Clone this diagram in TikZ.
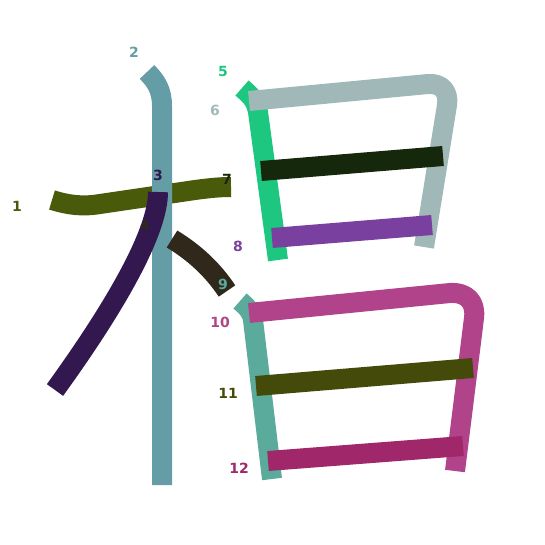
\documentclass[tikz,border=0pt]{standalone}
\usepackage{fontspec}
\newfontfamily\lblfont{DejaVu Sans}
\definecolor{cA}{HTML}{4A5A0B}
\definecolor{cB}{HTML}{659DA7}
\definecolor{cC}{HTML}{32184F}
\definecolor{cD}{HTML}{30291B}
\definecolor{cE}{HTML}{1EC780}
\definecolor{cF}{HTML}{A0B8B8}
\definecolor{cG}{HTML}{16280C}
\definecolor{cH}{HTML}{7A40A0}
\definecolor{cI}{HTML}{5AAB9C}
\definecolor{cJ}{HTML}{B04389}
\definecolor{cK}{HTML}{444A0A}
\definecolor{cL}{HTML}{A0286A}
\tikzset{
  stroke/.style={line width=20pt, line cap=butt, line join=round, draw=#1},
  num/.style={text=#1, font=\lblfont\bfseries\fontsize{14}{14}\selectfont, inner sep=0pt}
}
\begin{document}
\begin{tikzpicture}[x=1pt,y=-1pt]
\useasboundingbox (0,0) rectangle (545,545);
% strokes
\draw[stroke=cA] (52,200) .. controls (68,205) and (82,207) .. (100,204) -- (195,190) .. controls (210,188) and (220,187) .. (231,187);
\draw[stroke=cB] (147,72) .. controls (156,81) and (162,90) .. (162,106) -- (162,485);
\draw[stroke=cC] (158,192) .. controls (158,230) and (120,300) .. (55,390);
\draw[stroke=cD] (172,239) .. controls (195,253) and (213,270) .. (227,291);
\draw[stroke=cE] (242,88) .. controls (250,95) and (256,100) .. (258,112) -- (278,260);
\draw[stroke=cF] (249,101) -- (428,84) .. controls (442,83) and (449,92) .. (447,105) -- (424,247);
\draw[stroke=cG] (261,171) -- (443,156);
\draw[stroke=cH] (272,238) -- (432,225);
\draw[stroke=cI] (240,301) .. controls (247,307) and (252,312) .. (253,320) -- (272,479);
\draw[stroke=cJ] (249,313) -- (450,293) .. controls (467,292) and (476,302) .. (474,318) -- (455,471);
\draw[stroke=cK] (256,386) -- (473,368);
\draw[stroke=cL] (268,461) -- (463,446);
% labels
\node[num=cA] (n1) at (17,206) {1};
\node[num=cB] (n2) at (134,52) {2};
\node[num=cC] (n3) at (158,175) {3};
\node[num=cD] (n4) at (145,225) {4};
\node[num=cE] (n5) at (223,71) {5};
\node[num=cF] (n6) at (215,110) {6};
\node[num=cG] (n7) at (227,179) {7};
\node[num=cH] (n8) at (238,246) {8};
\node[num=cI] (n9) at (223,284) {9};
\node[num=cJ] (n10) at (220,322) {10};
\node[num=cK] (n11) at (228,393) {11};
\node[num=cL] (n12) at (239,468) {12};
\end{tikzpicture}
\end{document}
